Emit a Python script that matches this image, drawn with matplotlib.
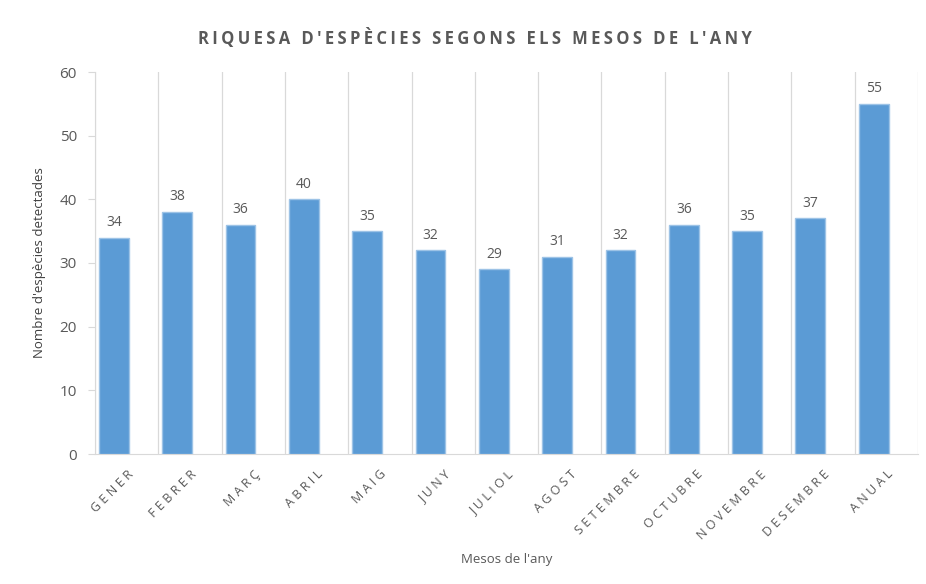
import numpy as np
import matplotlib
matplotlib.use("agg")
import matplotlib.pyplot as plt

months = ["GENER", "FEBRER", "MARÇ", "ABRIL", "MAIG", "JUNY", "JULIOL",
          "AGOST", "SETEMBRE", "OCTUBRE", "NOVEMBRE", "DESEMBRE", "ANUAL"]
species = [34, 38, 36, 40, 35, 32, 29, 31, 32, 36, 35, 37, 55]
title = "RIQUESA D'ESPÈCIES SEGONS ELS MESOS DE L'ANY"

plt.rcParams["font.family"] = ["Open Sans", "DejaVu Sans"]


def spaced(s, sep="\u2009"):
    # fake letter spacing with thin spaces
    return sep.join(s)


fig = plt.figure(figsize=(9.26, 5.84), dpi=100)
ax = fig.add_axes([95 / 926, 1 - 454 / 584, 823 / 926, 382 / 584])

x = np.arange(len(months))
ax.bar(x - 0.2, species, width=0.47, color="#5B9BD5",
       edgecolor="#9DC3E6", linewidth=1.0, zorder=3)
for xi, v in zip(x, species):
    ax.text(xi - 0.2, v + 1.2, str(v), ha="center", va="bottom",
            fontsize=10, color="#595959")

# vertical separators between categories
for b in np.arange(-0.5, len(months), 1.0):
    ax.axvline(b, color="#D9D9D9", lw=0.9, zorder=1)

ax.set_xlim(-0.5, len(months) - 0.5)
ax.set_ylim(0, 60)
ax.set_yticks(range(0, 61, 10))
ax.tick_params(axis="y", colors="#595959", labelsize=11, length=5,
               color="#D9D9D9", pad=8)
ax.set_xticks(x)
ax.set_xticklabels([spaced(m, "\u2009\u200a") for m in months], rotation=45,
                   ha="right", rotation_mode="anchor", fontsize=9,
                   color="#595959")
ax.tick_params(axis="x", length=0, pad=10)

for s in ["top", "right"]:
    ax.spines[s].set_visible(False)
ax.spines["left"].set_color("#D9D9D9")
ax.spines["bottom"].set_color("#D9D9D9")

ax.set_xlabel("Mesos de l'any", fontsize=9.5, color="#595959", labelpad=8)
ax.set_ylabel("Nombre d'espècies detectades", fontsize=9.5,
              color="#404040", labelpad=10)

fig.text(0.513, 1 - 38 / 584, spaced(title), ha="center", va="center",
         fontsize=12, color="#595959", fontweight="bold")

fig.savefig("out.png", dpi=100)
